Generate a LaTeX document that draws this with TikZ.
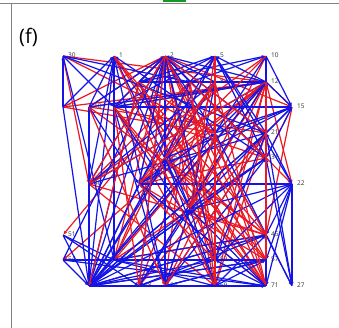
\documentclass[tikz,border=0pt]{standalone}
\usepackage{fontspec}
\setmainfont{Open Sans}
\usetikzlibrary{arrows.meta}
\definecolor{eblue}{RGB}{20,20,230}
\definecolor{ered}{RGB}{235,25,35}
\definecolor{framegray}{RGB}{130,130,130}
\definecolor{tabgreen}{RGB}{20,150,40}
\tikzset{
  vtx/.style={inner sep=0pt,minimum size=0pt},
  lbl/.style={font=\fontsize{6.5}{6.5}\selectfont,text=black!80,anchor=west,inner sep=0pt},
  bedge/.style={draw=eblue,line width=1.2pt,-{Latex[length=4pt,width=3.5pt]}},
  redge/.style={draw=ered,line width=1.2pt,-{Latex[length=4pt,width=3.5pt]}},
  frameline/.style={draw=framegray,line width=1pt}
}
\begin{document}
\begin{tikzpicture}[x=1pt,y=-1pt]
\useasboundingbox (0,0) rectangle (339,328);
\fill[white] (0,0) rectangle (339,328);
% frame
\fill[tabgreen] (163,0) rectangle (186,2);
\draw[frameline] (0,3.5) -- (339,3.5);
\draw[frameline] (11,3.5) -- (11,328);
\node[font=\fontsize{20}{20}\selectfont,anchor=west,inner sep=0pt] (title) at (19,37) {(f)};
% vertices
\foreach \n/\x/\y/\t in {
 n30/63/56/30, n1/114/56/1, n2/165/56/2, n5/215/56/5, n10/266/56/10,
 n3/139/82/3, n6/190/82/6, n9/215/82/8, n12/266/82/12,
 n17/63/107/17, n18/89/107/18, n20/114/107/20, n15/292/107/15,
 n33/215/133/33, n21/266/133/21,
 n25/165/158/25, n31/266/158/31,
 n36/139/184/36, n40/89/184/40, n22/292/184/22,
 n44/190/209/44,
 n51/63/235/51, n45/266/235/45,
 n54/63/260/54, n56/114/260/56, n59/215/260/59, n57/266/260/57,
 n60/89/286/60, n68/139/286/68, n66/165/286/66, n69/215/286/69, n71/266/286/71, n27/292/286/27}
{
  \node[vtx] (\n) at (\x,\y) {};
  \node[lbl] (l\n) at (\x+5,\y-1) {\t};
}
% red edges (under)
\foreach \a/\b in {
 n30/n40, n30/n12, n30/n33, n17/n2, n18/n2, n2/n25, n2/n44, n2/n57, n2/n69, n2/n71, n2/n56, n2/n22, n2/n15,
 n12/n15, n12/n17, n18/n12, n12/n36, n12/n54, n12/n56, n12/n60, n12/n66, n12/n68, n12/n69,
 n12/n44, n12/n25, n12/n22, n12/n59, n10/n40, n10/n44, n10/n57, n15/n45, n21/n69, n21/n68,
 n31/n36, n31/n56, n17/n33, n18/n21, n18/n45, n20/n69, n20/n71, n20/n31,
 n3/n71, n3/n59, n6/n66, n6/n56, n6/n51, n9/n68, n60/n71, n40/n69, n40/n45,
 n36/n71, n25/n71, n25/n45, n33/n66, n44/n45, n56/n45, n57/n36, n1/n71,
 n1/n57, n5/n40, n5/n56, n22/n36, n20/n2, n3/n2, n12/n21, n2/n31, n2/n59, n15/n31, n21/n45,
 n20/n12, n2/n36, n2/n66}
{ \draw[redge] (\a) -- (\b); }
% blue edges
\foreach \a/\b in {
 n17/n30, n30/n21, n30/n6, n17/n1, n18/n1, n20/n1, n60/n1, n44/n1, n31/n1, n56/n1,
 n18/n2, n20/n2, n3/n2, n6/n2, n12/n2, n21/n2, n31/n2, n60/n2, n68/n2, n66/n2, n59/n2, n45/n2,
 n54/n2, n40/n2, n36/n2, n9/n2, n3/n5, n6/n5, n9/n5, n12/n5, n21/n5, n20/n5, n36/n5,
 n25/n5, n12/n10, n6/n10, n3/n10, n21/n10, n33/n10, n6/n12, n9/n12, n3/n12,
 n18/n12, n20/n12, n40/n12, n45/n12, n57/n12, n71/n12, n31/n12, n21/n12, n33/n12, n33/n15,
 n25/n15, n21/n15, n31/n15, n20/n15, n12/n15, n17/n60,
 n18/n60, n18/n36, n20/n66, n20/n59, n21/n60, n21/n40, n31/n60, n31/n44,
 n22/n27, n22/n57, n22/n45, n22/n44, n22/n36, n22/n71, n22/n59, n22/n21, n40/n60, n51/n60,
 n51/n56, n51/n68, n54/n60, n54/n56, n56/n60, n56/n69, n45/n60,
 n45/n27, n45/n56, n45/n68, n57/n60, n57/n56, n57/n66, n59/n60, n59/n68, n59/n21, n60/n44,
 n60/n25, n60/n33, n60/n36, n60/n9, n60/n3, n60/n6, n68/n44, n68/n12, n66/n44, n66/n31,
 n66/n21, n69/n44, n69/n33, n69/n25, n69/n57, n71/n44, n71/n36, n71/n56, n71/n59, n27/n31,
 n27/n33, n44/n3, n44/n9, n36/n33, n25/n9, n9/n40,
 n1/n66, n30/n56, n60/n45, n60/n57, n60/n71, n60/n22, n60/n31, n60/n21, n60/n12, n54/n71,
 n68/n71, n66/n57, n69/n45, n2/n33, n5/n31, n5/n22, n10/n15, n10/n31,
 n15/n44, n15/n36, n21/n27, n1/n40, n30/n20}
{ \draw[bedge] (\a) -- (\b); }
% red edges (over)
\foreach \a/\b in {
 n2/n45, n2/n68, n3/n60, n20/n68, n18/n66, n6/n69, n9/n71, n33/n71, n12/n57, n2/n21,
 n3/n33, n6/n31, n9/n25, n12/n40, n10/n36, n5/n44, n5/n69, n1/n69, n1/n45, n20/n44,
 n36/n59, n25/n57, n33/n44, n12/n31, n12/n45, n2/n40, n6/n59, n9/n36, n21/n66}
{ \draw[redge] (\a) -- (\b); }
\end{tikzpicture}
\end{document}
